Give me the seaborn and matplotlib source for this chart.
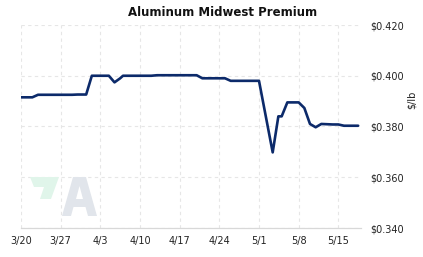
import matplotlib
matplotlib.use("Agg")
import matplotlib.pyplot as plt
from matplotlib.patches import Polygon
import pandas as pd
import seaborn as sns

dates = ["2023-03-20 00:00", "2023-03-22 00:00", "2023-03-23 00:00", "2023-03-29 00:00", "2023-03-30 00:00", "2023-03-31 12:00",
         "2023-04-01 12:00", "2023-04-04 12:00", "2023-04-05 12:00", "2023-04-06 12:00", "2023-04-07 00:00", "2023-04-12 00:00",
         "2023-04-13 00:00", "2023-04-20 00:00", "2023-04-21 00:00", "2023-04-25 00:00", "2023-04-26 00:00", "2023-05-01 00:00",
         "2023-05-03 10:00", "2023-05-04 10:00", "2023-05-05 00:00", "2023-05-06 00:00", "2023-05-08 00:00", "2023-05-09 00:00",
         "2023-05-10 00:00", "2023-05-11 00:00", "2023-05-12 00:00", "2023-05-14 00:00", "2023-05-15 00:00", "2023-05-16 00:00",
         "2023-05-18 12:00"]
prices = [0.3915, 0.3915, 0.3925, 0.3925, 0.3926, 0.3926,
          0.4000, 0.4000, 0.3974, 0.3990, 0.4000, 0.4000,
          0.4002, 0.4002, 0.3990, 0.3990, 0.3980, 0.3980,
          0.3698, 0.3840, 0.3840, 0.3895, 0.3895, 0.3873,
          0.3810, 0.3797, 0.3810, 0.3808, 0.3808, 0.3803,
          0.3803]
tick_dates = ["2023-03-20", "2023-03-27", "2023-04-03", "2023-04-10", "2023-04-17",
              "2023-04-24", "2023-05-01", "2023-05-08", "2023-05-15"]
tick_labels = ["3/20", "3/27", "4/3", "4/10", "4/17", "4/24", "5/1", "5/8", "5/15"]
y_ticks = [0.340, 0.360, 0.380, 0.400, 0.420]
y_labels = ["$0.340", "$0.360", "$0.380", "$0.400", "$0.420"]

df = pd.DataFrame({"date": pd.to_datetime(dates, format="%Y-%m-%d %H:%M"), "price": prices})

sns.set_style("white")
plt.rcParams["font.family"] = ["DejaVu Sans"]

W, H = 423, 257
fig = plt.figure(figsize=(W / 100, H / 100), dpi=100)
ax = fig.add_axes([21 / W, 1 - 228 / H, (361 - 21) / W, (228 - 25) / H])

# watermark
green = [(30, 177), (59, 177), (51, 199), (40, 199), (44, 187), (34, 187)]
fig.patches.append(Polygon([(x / W, 1 - y / H) for x, y in green], closed=True,
                           transform=fig.transFigure, facecolor="#e0f5ea", edgecolor="none", zorder=0))
a_outer = [(62, 216), (73, 177), (86, 177), (97, 216), (88, 216), (85.5, 207), (73.5, 207), (71, 216)]
fig.patches.append(Polygon([(x / W, 1 - y / H) for x, y in a_outer], closed=True,
                           transform=fig.transFigure, facecolor="#e1e5eb", edgecolor="none", zorder=0))
a_hole = [(76, 199), (83, 199), (79.5, 186)]
fig.patches.append(Polygon([(x / W, 1 - y / H) for x, y in a_hole], closed=True,
                           transform=fig.transFigure, facecolor="white", edgecolor="none", zorder=0))
ax.set_facecolor("none")

sns.lineplot(data=df, x="date", y="price", ax=ax, color="#0c2a6a", linewidth=1.9, zorder=3)

ax.set_xlim(pd.Timestamp("2023-03-20"), pd.Timestamp("2023-05-19"))
ax.set_ylim(0.340, 0.420)
ax.set_xticks(pd.to_datetime(tick_dates))
ax.set_xticklabels(tick_labels, fontsize=7, color="#222222")
ax.set_yticks(y_ticks)
ax.set_yticklabels(y_labels, fontsize=7, color="#222222")
ax.yaxis.tick_right()
ax.tick_params(axis="y", length=0, pad=7)
ax.tick_params(axis="x", length=4, color="#d8d8d8", width=0.8, pad=2)
ax.grid(True, linestyle=(0, (3, 3)), color="#e6e6e6", linewidth=0.8)
for s in ["top", "right", "left"]:
    ax.spines[s].set_visible(False)
ax.spines["bottom"].set_color("#d8d8d8")
ax.spines["bottom"].set_linewidth(0.9)
ax.set_xlabel("")
ax.set_ylabel("")
fig.text(412 / W, 1 - 100 / H, "$/lb", rotation=90, fontsize=7, ha="center", va="center", color="#222222")
fig.text(223 / W, 1 - 13 / H, "Aluminum Midwest Premium", fontsize=8.5, fontweight="bold",
         ha="center", va="center", color="#111111")

fig.savefig("out.png", dpi=100)
